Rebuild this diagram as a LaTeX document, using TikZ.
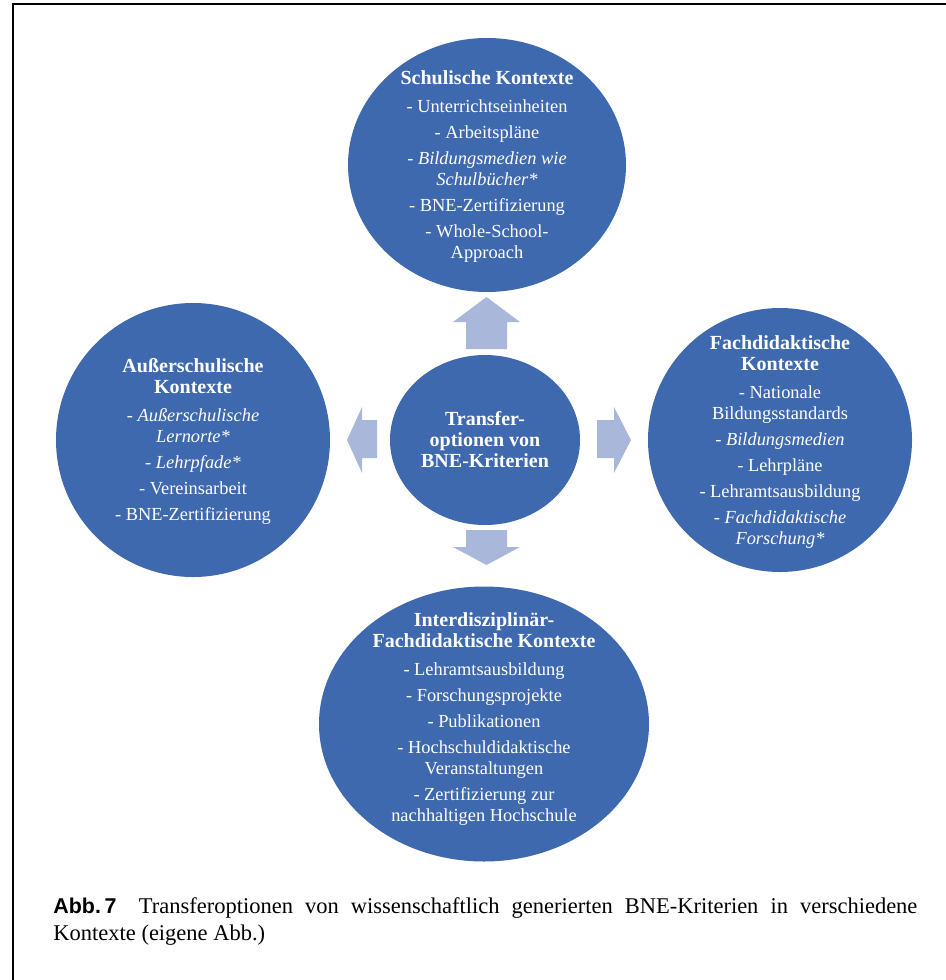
\documentclass[tikz,border=0pt]{standalone}
\usepackage{fontspec}
\setmainfont{Liberation Serif}
\newfontfamily\abbfont{Liberation Sans}
\usetikzlibrary{shapes.geometric}
\definecolor{kreisblau}{HTML}{3F69AF}
\definecolor{pfeilblau}{HTML}{A9B8DA}
\newcommand{\titel}[1]{{\fontsize{10}{10.5}\selectfont\bfseries #1}}
\begin{document}
\begin{tikzpicture}[x=0.5pt, y=-0.5pt,
		kreis/.style={ellipse, fill=kreisblau, inner sep=0pt},
		inhalt/.style={text=white, align=center, inner sep=0pt, font=\fontsize{9.2}{10.5}\selectfont},
		pfeil/.style={fill=pfeilblau}]
	\useasboundingbox (0,0) rectangle (946,980);
	% 1. Rahmen
	\draw[line width=0.7pt] (13,980) -- (13,4) -- (946,4);
	
	% 2. Kreise
	\node[kreis, minimum width=139pt, minimum height=127pt] (schule) at (487,165) {};
	\node[kreis, minimum size=137pt] (ausser) at (193,440) {};
	\node[kreis, minimum size=132pt] (fach) at (780,440) {};
	\node[kreis, minimum width=165pt, minimum height=137.5pt] (hochschule) at (484,724) {};
	\node[kreis, minimum width=95pt, minimum height=85pt, text=white, align=center,
		font=\fontsize{10}{10.5}\selectfont\bfseries] (zentrum) at (485,440) {Transfer-\\optionen von\\BNE-Kriterien};
	
	% 3. Pfeile (hellblau)
	\fill[pfeil] (466,349) -- (466,322) -- (453,322) -- (486.5,297) -- (520,322) -- (507,322) -- (507,349) -- cycle;
	\fill[pfeil] (377,420) -- (362,420) -- (362,407) -- (347,440) -- (362,473) -- (362,458) -- (377,458) -- cycle;
	\fill[pfeil] (597,420) -- (614,420) -- (614,407) -- (631,440) -- (614,473) -- (614,458) -- (597,458) -- cycle;
	\fill[pfeil] (466,530) -- (466,547) -- (453,547) -- (486.5,565) -- (520,547) -- (507,547) -- (507,530) -- cycle;
	
	% 4. Texte in den Kreisen
	\node[inhalt] (schuletext) at ([yshift=-1pt]schule.center) {\titel{Schulische Kontexte}\\[3.5pt]
		- Unterrichtseinheiten\\[2.5pt]
		- Arbeitspläne\\[2.5pt]
		- \textit{Bildungsmedien wie}\\ \textit{Schulbücher*}\\[2.5pt]
		- BNE-Zertifizierung\\[2.5pt]
		- Whole-School-\\Approach};
	\node[inhalt] (aussertext) at ([yshift=-0.5pt]ausser.center) {\titel{Außerschulische}\\ \titel{Kontexte}\\[3.5pt]
		- \textit{Außerschulische}\\ \textit{Lernorte*}\\[2.5pt]
		- \textit{Lehrpfade*}\\[2.5pt]
		- Vereinsarbeit\\[2.5pt]
		- BNE-Zertifizierung};
	\node[inhalt] (fachtext) at ([yshift=-1pt]fach.center) {\titel{Fachdidaktische}\\ \titel{Kontexte}\\[3.5pt]
		- Nationale\\ Bildungsstandards\\[2.5pt]
		- \textit{Bildungsmedien}\\[2.5pt]
		- Lehrpläne\\[2.5pt]
		- Lehramtsausbildung\\[2.5pt]
		- \textit{Fachdidaktische}\\ \textit{Forschung*}};
	\node[inhalt] (hochschultext) at ([yshift=2.5pt]hochschule.center) {\titel{Interdisziplinär-}\\ \titel{Fachdidaktische Kontexte}\\[3.5pt]
		- Lehramtsausbildung\\[2.5pt]
		- Forschungsprojekte\\[2.5pt]
		- Publikationen\\[2.5pt]
		- Hochschuldidaktische\\ Veranstaltungen\\[2.5pt]
		- Zertifizierung zur\\ nachhaltigen Hochschule};
	
	% 5. Bildunterschrift
	\node[anchor=base west, inner sep=0pt, font=\fontsize{11.25}{13.5}\selectfont] (zeileeins) at (53,913)
		{\makebox[432pt][s]{{\abbfont\bfseries\fontsize{10.7}{13.5}\selectfont Abb.\,7}\quad Transferoptionen von wissenschaftlich generierten BNE-Kriterien in verschiedene}};
	\node[anchor=base west, inner sep=0pt, font=\fontsize{11.25}{13.5}\selectfont] (zeilezwei) at (53,940) {Kontexte (eigene Abb.)};
\end{tikzpicture}
\end{document}
